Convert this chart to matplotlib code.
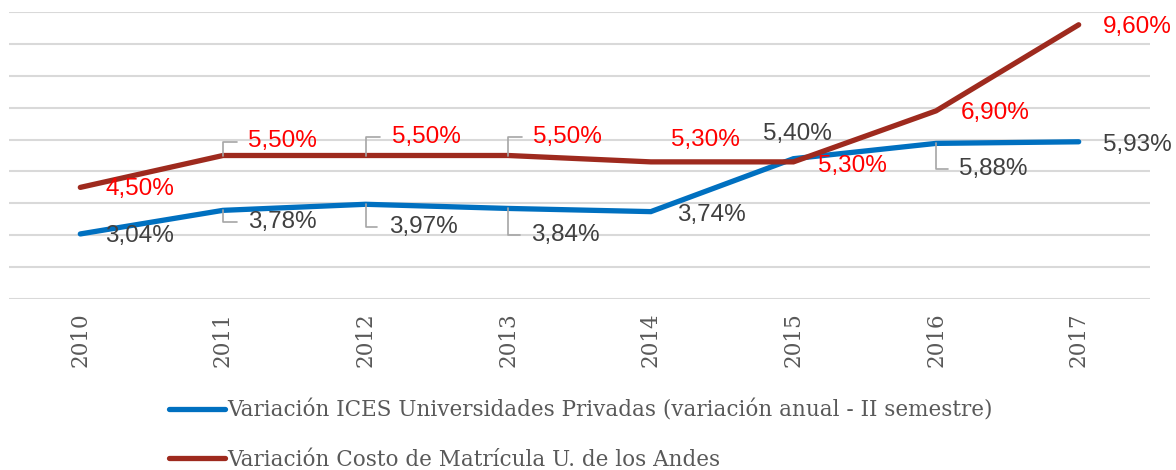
import matplotlib.pyplot as plt
import numpy as np

years = ["2010", "2011", "2012", "2013", "2014", "2015", "2016", "2017"]
ices = [3.04, 3.78, 3.97, 3.84, 3.74, 5.40, 5.88, 5.93]
andes = [4.50, 5.50, 5.50, 5.50, 5.30, 5.30, 6.90, 9.60]

ices_name = "Variación ICES Universidades Privadas (variación anual - II semestre)"
andes_name = "Variación Costo de Matrícula U. de los Andes"

# label offsets in pixels (left edge / vertical centre relative to the point)
ices_off = [(25, -2), (25, -12), (23, -23), (23, -27), (26, -3), (-30, 25), (23, -26), (24, -3)]
andes_off = [(25, -2), (25, 14), (26, 19), (25, 19), (20, 22), (25, -4), (25, -2), (24, -2)]
ices_leader = [False, True, True, True, False, False, True, False]
andes_leader = [False, True, True, True, False, False, False, False]

blue = "#0070C0"
red = "#9E2A1E"

fig = plt.figure(figsize=(11.76, 4.70), dpi=100)
ax = fig.add_axes([9 / 1176, 1 - 299 / 470, (1150 - 9) / 1176, (299 - 12) / 470])

x = np.arange(len(years))
l1, = ax.plot(x, ices, color=blue, lw=3.8, solid_capstyle="round", solid_joinstyle="miter", label=ices_name, zorder=3)
l2, = ax.plot(x, andes, color=red, lw=3.8, solid_capstyle="round", solid_joinstyle="miter", label=andes_name, zorder=3)

def labels(vals, offs, leads, color):
    for i, v in enumerate(vals):
        txt = ("%.2f%%" % v).replace(".", ",")
        kw = {}
        if leads[i]:
            kw["arrowprops"] = dict(arrowstyle="-", color="#A6A6A6", lw=1.2, relpos=(0, 0.5),
                                    connectionstyle="angle,angleA=0,angleB=90,rad=0",
                                    shrinkA=6, shrinkB=0)
        ax.annotate(txt, (x[i], v), xytext=offs[i], textcoords="offset pixels",
                    ha="left", va="center", fontsize=17.5, color=color,
                    family="Liberation Sans", zorder=4, **kw)

labels(ices, ices_off, ices_leader, "#404040")
labels(andes, andes_off, andes_leader, "#FF0000")

ax.set_xlim(-0.5, len(years) - 0.5)
ax.set_ylim(1, 10)
ax.set_yticks(np.arange(1, 11))
ax.yaxis.grid(True, color="#D9D9D9", lw=1.5)
ax.set_axisbelow(True)
ax.tick_params(left=False, labelleft=False, bottom=False)
for s in ax.spines.values():
    s.set_visible(False)

ax.set_xticks(x)
ax.set_xticklabels(years, rotation=90, family="DejaVu Serif", fontsize=15.5, color="#595959")
ax.tick_params(axis="x", pad=6)

fig.legend(handles=[l1, l2], loc="upper left", bbox_to_anchor=(169 / 1176, 1 - 400 / 470),
           frameon=False, prop={"family": "DejaVu Serif", "size": 15.5}, labelcolor="#595959",
           handlelength=2.6, handletextpad=0.1, labelspacing=1.25, borderpad=0, borderaxespad=0)

fig.savefig("out.png", dpi=100)
